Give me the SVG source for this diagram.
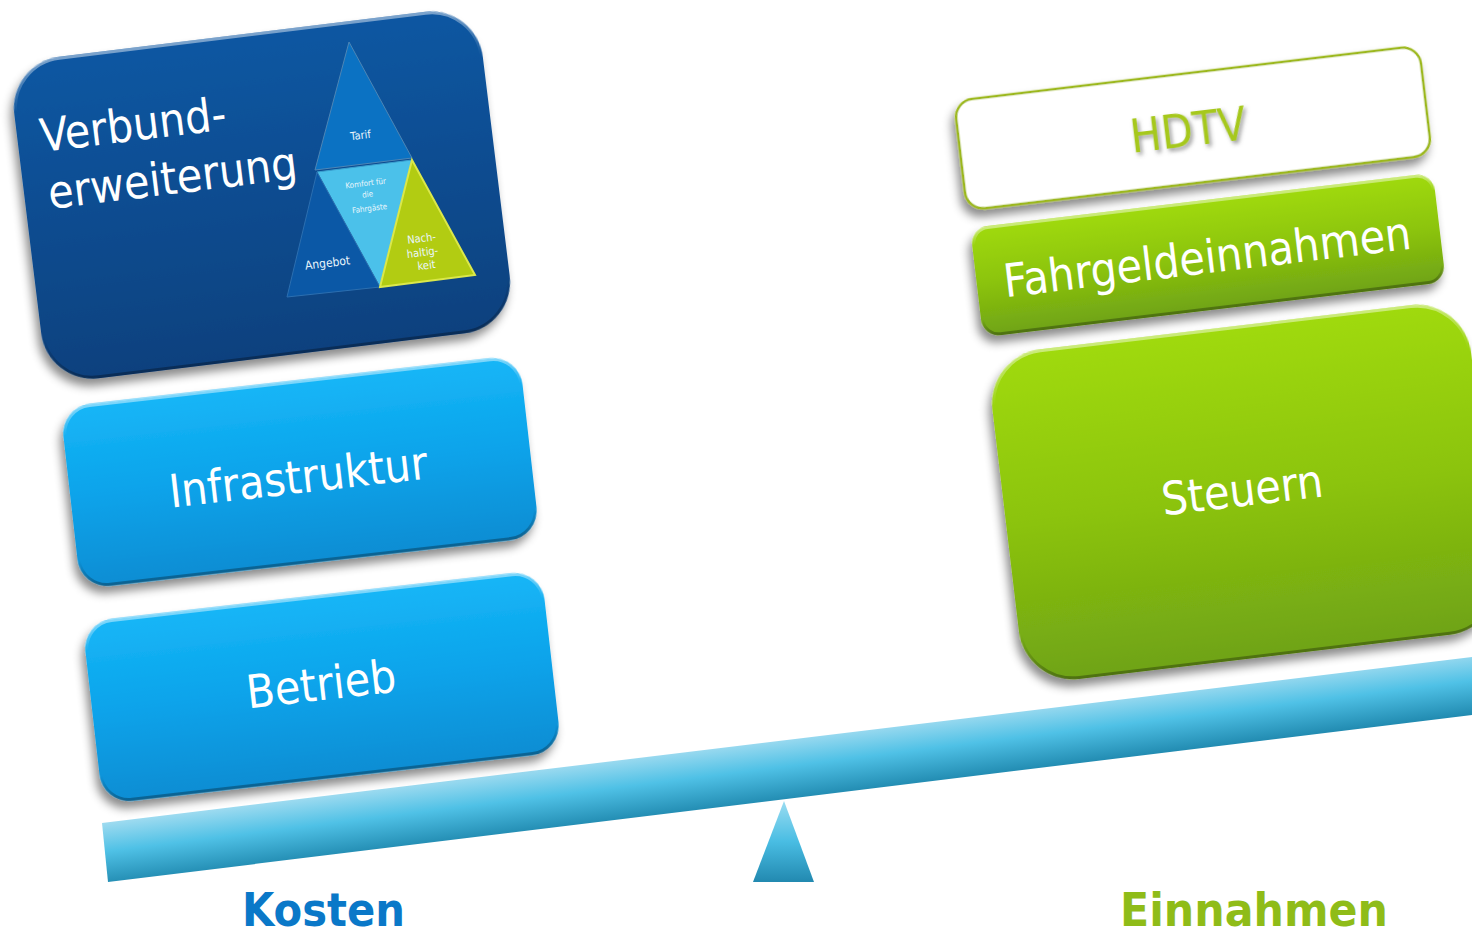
<svg xmlns="http://www.w3.org/2000/svg" width="1472" height="939" viewBox="0 0 1472 939">
  <defs>
    <linearGradient id="gDark" x1="0" y1="0" x2="0" y2="1">
      <stop offset="0" stop-color="#0d57a2"/>
      <stop offset="1" stop-color="#09417e"/>
    </linearGradient>
    <linearGradient id="gBlue" x1="0" y1="0" x2="0" y2="1">
      <stop offset="0" stop-color="#17b6f7"/>
      <stop offset="0.5" stop-color="#0aa3ea"/>
      <stop offset="1" stop-color="#098dd3"/>
    </linearGradient>
    <linearGradient id="gGreen" x1="0" y1="0" x2="0" y2="1">
      <stop offset="0" stop-color="#a0da0b"/>
      <stop offset="0.5" stop-color="#8cc40e"/>
      <stop offset="1" stop-color="#6fa314"/>
    </linearGradient>
    <linearGradient id="gEdge" x1="0" y1="0" x2="0" y2="1">
      <stop offset="0" stop-color="#ffffff" stop-opacity="0.45"/>
      <stop offset="0.15" stop-color="#ffffff" stop-opacity="0"/>
      <stop offset="0.85" stop-color="#000000" stop-opacity="0"/>
      <stop offset="1" stop-color="#000000" stop-opacity="0.3"/>
    </linearGradient>
    <linearGradient id="gBeam" gradientUnits="userSpaceOnUse" x1="700" y1="748" x2="708" y2="812">
      <stop offset="0" stop-color="#9fdbf0"/>
      <stop offset="0.45" stop-color="#4fc1e6"/>
      <stop offset="1" stop-color="#1f88ae"/>
    </linearGradient>
    <linearGradient id="gFulcrum" x1="0" y1="0" x2="0" y2="1">
      <stop offset="0" stop-color="#9adcf1"/>
      <stop offset="0.5" stop-color="#49bde3"/>
      <stop offset="1" stop-color="#2289b0"/>
    </linearGradient>
    <filter id="shadow" x="-10%" y="-10%" width="120%" height="130%">
      <feDropShadow dx="-4" dy="7" stdDeviation="5" flood-color="#000" flood-opacity="0.45"/>
    </filter>
    <filter id="tshadow" x="-10%" y="-20%" width="130%" height="150%">
      <feDropShadow dx="2" dy="3" stdDeviation="2" flood-color="#555" flood-opacity="0.6"/>
    </filter>
  </defs>
  <style>
    .lbl { font-family: "DejaVu Sans Condensed", "DejaVu Sans", sans-serif; font-size: 46px; fill: #ffffff; }
    .mid { text-anchor: middle; }
    .small { font-family: "DejaVu Sans Condensed", "DejaVu Sans", sans-serif; fill: #eaf6fc; text-anchor: middle; }
    .big { font-family: "DejaVu Sans Condensed", "DejaVu Sans", sans-serif; font-weight: bold; font-size: 47px; }
    .edge { fill: none; stroke: url(#gEdge); stroke-width: 3; }
  </style>

  <rect width="1472" height="939" fill="#ffffff"/>

  <g id="scale">
    <polygon points="102,823 1472,657 1472,715 108,882" fill="url(#gBeam)"/>
    <polygon points="784,801 753,882 814,882" fill="url(#gFulcrum)"/>
  </g>

  <g id="verbund">
    <g transform="rotate(-7 262 195)">
      <rect x="26" y="33" width="472" height="324" rx="52" fill="url(#gDark)" filter="url(#shadow)"/>
      <rect x="27.5" y="34.5" width="469" height="321" rx="50" class="edge"/>
    </g>
    <g id="pyramid">
      <polygon points="349,42 315,170 412,158" fill="#0b72c3" stroke="#4d86b6" stroke-width="1"/>
      <polygon points="317,172 412,160 380,287" fill="#4bc1ea" stroke="#3aa0d0" stroke-width="1"/>
      <polygon points="317,172 380,287 287,297" fill="#0b58a6" stroke="#2c6fb0" stroke-width="1"/>
      <polygon points="412,160 475,275 380,287" fill="#b2cc12" stroke="#dbe84a" stroke-width="2"/>
      <text class="small" font-size="11" x="361" y="139" transform="rotate(-7 361 139)">Tarif</text>
      <text class="small" font-size="8" x="366" y="186" transform="rotate(-7 366 186)">Komfort für</text>
      <text class="small" font-size="8" x="368" y="197" transform="rotate(-7 368 197)">die</text>
      <text class="small" font-size="8" x="370" y="211" transform="rotate(-7 370 211)">Fahrgäste</text>
      <text class="small" font-size="12" x="328" y="267" transform="rotate(-7 328 267)">Angebot</text>
      <text class="small" font-size="11" x="422" y="242" transform="rotate(-7 422 242)">Nach-</text>
      <text class="small" font-size="11" x="423" y="256" transform="rotate(-7 423 256)">haltig-</text>
      <text class="small" font-size="11" x="427" y="269" transform="rotate(-7 427 269)">keit</text>
    </g>
    <text class="lbl" x="42" y="152" transform="rotate(-7 42 152)">Verbund-</text>
    <text class="lbl" x="50" y="209" transform="rotate(-7 50 209)">erweiterung</text>
  </g>

  <g id="infrastruktur">
    <g transform="rotate(-6.5 300 472)">
      <rect x="69" y="380.5" width="462" height="183" rx="30" fill="url(#gBlue)" filter="url(#shadow)"/>
      <rect x="70.5" y="382" width="459" height="180" rx="28" class="edge"/>
    </g>
    <text class="lbl mid" x="300" y="493" transform="rotate(-6.5 300 493)">Infrastruktur</text>
  </g>

  <g id="betrieb">
    <g transform="rotate(-6.5 322 687)">
      <rect x="91" y="595.5" width="462" height="183" rx="30" fill="url(#gBlue)" filter="url(#shadow)"/>
      <rect x="92.5" y="597" width="459" height="180" rx="28" class="edge"/>
    </g>
    <text class="lbl mid" x="323" y="700" transform="rotate(-6.5 323 700)">Betrieb</text>
  </g>

  <g id="hdtv">
    <g transform="rotate(-6.8 1193 128)">
      <rect x="959" y="73" width="468" height="110" rx="18" fill="#ffffff" stroke="#9cb81a" stroke-width="2.5" filter="url(#shadow)"/>
    </g>
    <text class="lbl mid" x="1190" y="146" transform="rotate(-6.8 1190 146)" style="fill:#a6c81e" filter="url(#tshadow)">HDTV</text>
  </g>

  <g id="fahrgeld">
    <g transform="rotate(-6.8 1208 255)">
      <rect x="975" y="200" width="466" height="110" rx="18" fill="url(#gGreen)" filter="url(#shadow)"/>
      <rect x="976.5" y="201.5" width="463" height="107" rx="16" class="edge"/>
    </g>
    <text class="lbl mid" x="1209" y="273" transform="rotate(-6.8 1209 273)">Fahrgeldeinnahmen</text>
  </g>

  <g id="steuern">
    <g transform="rotate(-6.8 1245 492)">
      <rect x="1004" y="326" width="482" height="332" rx="55" fill="url(#gGreen)" filter="url(#shadow)"/>
      <rect x="1005.5" y="327.5" width="479" height="329" rx="53" class="edge"/>
    </g>
    <text class="lbl mid" x="1244" y="506" transform="rotate(-6.8 1244 506)">Steuern</text>
  </g>

  <g id="labels">
    <text class="big" x="242" y="926" fill="#0a78c8" textLength="163" lengthAdjust="spacingAndGlyphs">Kosten</text>
    <text class="big" x="1120" y="926" fill="#8fbc18" textLength="268" lengthAdjust="spacingAndGlyphs">Einnahmen</text>
  </g>
</svg>
